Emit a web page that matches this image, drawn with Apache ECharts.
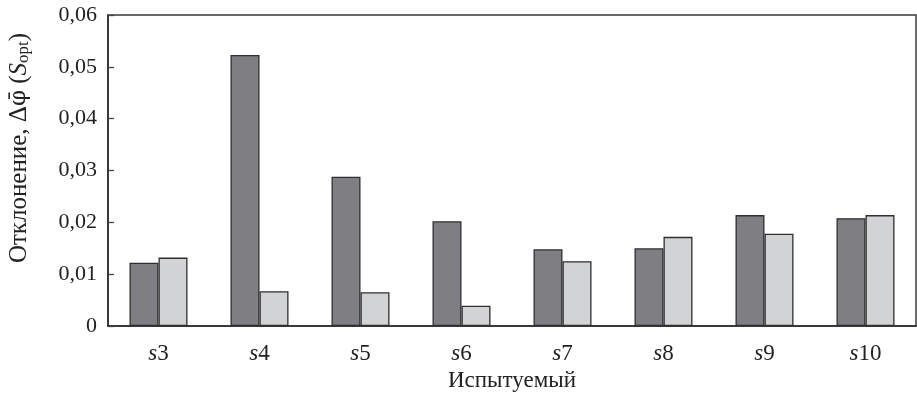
<!DOCTYPE html>
<html>
<head>
<meta charset="utf-8">
<script src="https://cdn.jsdelivr.net/npm/echarts@6/dist/echarts.min.js"></script>
<style>
html,body{margin:0;padding:0;background:#fff;}
#c{width:917px;height:393px;}
</style>
</head>
<body>
<div id="c"></div>
<script>
// Subjects and the two deviation series
var subjects = ['3', '4', '5', '6', '7', '8', '9', '10'];
var darkValues = [0.0122, 0.0523, 0.0288, 0.0202, 0.0148, 0.0150, 0.0214, 0.0208];
var lightValues = [0.0132, 0.0067, 0.0065, 0.0039, 0.0125, 0.0172, 0.0178, 0.0214];
var yTicks = [0, 0.01, 0.02, 0.03, 0.04, 0.05, 0.06];

var FONT = '"Liberation Serif", "DejaVu Serif", serif';
var chart = echarts.init(document.getElementById('c'));

var barBorder = { borderColor: '#2e2e2e', borderWidth: 1.3 };

chart.setOption({
  animation: false,
  backgroundColor: '#fff',
  grid: {
    left: 108, right: 1, top: 15, bottom: 67,
    outerBoundsMode: 'none',
    containLabel: false,
    show: true, borderColor: '#3a3a3a', borderWidth: 1.5
  },
  xAxis: {
    type: 'category',
    data: subjects,
    axisLine: { lineStyle: { color: '#2a2a2a', width: 1.5 } },
    axisTick: { inside: true, length: 5, lineStyle: { color: '#333', width: 1.3 } },
    axisLabel: {
      margin: 16,
      formatter: function (v) { return '{i|s}{n|' + v + '}'; },
      rich: {
        i: { fontFamily: FONT, fontStyle: 'italic', fontSize: 23, color: '#222' },
        n: { fontFamily: FONT, fontSize: 23, color: '#222' }
      }
    },
    name: 'Испытуемый',
    nameLocation: 'middle',
    nameGap: 43,
    nameTextStyle: { fontFamily: FONT, fontSize: 23, color: '#222' }
  },
  yAxis: {
    type: 'value',
    min: yTicks[0],
    max: yTicks[yTicks.length - 1],
    interval: 0.01,
    splitLine: { show: false },
    axisLine: { show: true, lineStyle: { color: '#2a2a2a', width: 1.5 } },
    axisTick: { show: true, inside: true, length: 6, lineStyle: { color: '#444', width: 1.3 } },
    axisLabel: {
      margin: 11,
      fontFamily: FONT, fontSize: 22, color: '#222',
      formatter: function (v) { return v === 0 ? '0' : v.toFixed(2).replace('.', ','); }
    }
  },
  graphic: [{
    type: 'text',
    x: 19, y: 148,
    rotation: Math.PI / 2,
    style: {
      text: '{t|Отклонение, Δ}{phi|φ\u0304}{t| (}{it|S}{sub|opt}{t|)}',
      align: 'center',
      verticalAlign: 'middle',
      rich: {
        t: { fontFamily: FONT, fontSize: 25, fill: '#222' },
        phi: { fontFamily: '"DejaVu Serif", serif', fontSize: 23, fill: '#222' },
        it: { fontFamily: FONT, fontStyle: 'italic', fontSize: 25, fill: '#222' },
        sub: { fontFamily: FONT, fontSize: 17, fill: '#222', padding: [9, 0, 0, 0] }
      }
    }
  }],
  series: [{
    type: 'bar',
    data: darkValues,
    barWidth: 29,
    barGap: '0%',
    itemStyle: Object.assign({ color: '#7f7f83' }, barBorder)
  }, {
    type: 'bar',
    data: lightValues,
    barWidth: 29,
    barGap: '0%',
    itemStyle: Object.assign({ color: '#d2d3d5' }, barBorder)
  }]
});
</script>
</body>
</html>
